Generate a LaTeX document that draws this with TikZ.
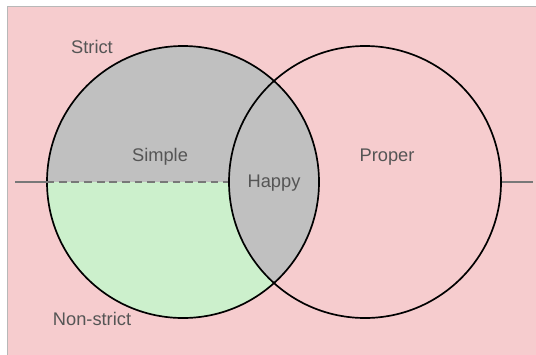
\documentclass[tikz,border=0pt]{standalone}
\usepackage{fontspec}
\setmainfont{Liberation Sans}
\usetikzlibrary{positioning,calc}
\definecolor{bgPink}{RGB}{246,204,206}
\definecolor{setGray}{RGB}{192,192,192}
\definecolor{setGreen}{RGB}{204,240,204}
\definecolor{txtGray}{RGB}{85,85,85}
\definecolor{lineGray}{RGB}{120,120,120}
\tikzset{
  setlabel/.style={text=txtGray, font=\fontsize{13}{15}\selectfont, inner sep=0pt},
  setring/.style={draw=black, line width=1.2pt, circle, minimum size=6.8cm, inner sep=0pt},
  axisline/.style={draw=lineGray, line width=0.8pt}
}

\begin{document}
\begin{tikzpicture}[scale=1.0]
    \useasboundingbox (0,0) rectangle (13.4,8.85);
    % background
    \draw[draw=black!28, fill=bgPink, line width=0.6pt] (0.175,-0.2) rectangle (13.6,8.7);
    \coordinate (lc) at (4.575,4.3);
    \coordinate (rc) at (9.125,4.3);
    % left set: lower half green, upper half grey
    \fill[setGreen] (lc) circle (3.4);
    \begin{scope}
      \clip (lc) circle (3.4);
      \fill[setGray] ($(lc)+(-3.5,0)$) rectangle ($(lc)+(3.5,3.5)$);
      \fill[setGray] (rc) circle (3.4);
    \end{scope}
    % outlines
    \node[setring] (strictset) at (lc) {};
    \node[setring] (properset) at (rc) {};
    \coordinate (axl) at (0.375,4.3);
    \coordinate (axr) at (13.325,4.3);
    \draw[axisline] (axl) -- (strictset.west);
    \draw[axisline, dash pattern=on 5.5pt off 3.5pt] (strictset.west) -- (properset.west);
    \draw[axisline] (properset.east) -- (axr);
    % labels
    \node[setlabel] (strict) at (2.3,7.675) {Strict};
    \node[setlabel] (nonstrict) at (2.3,0.875) {Non-strict};
    \node[setlabel] (simple) at (4.0,4.925) {Simple};
    \node[setlabel] (happy) at (6.85,4.275) {Happy};
    \node[setlabel] (proper) at (9.675,4.925) {Proper};
  \end{tikzpicture}
\end{document}
